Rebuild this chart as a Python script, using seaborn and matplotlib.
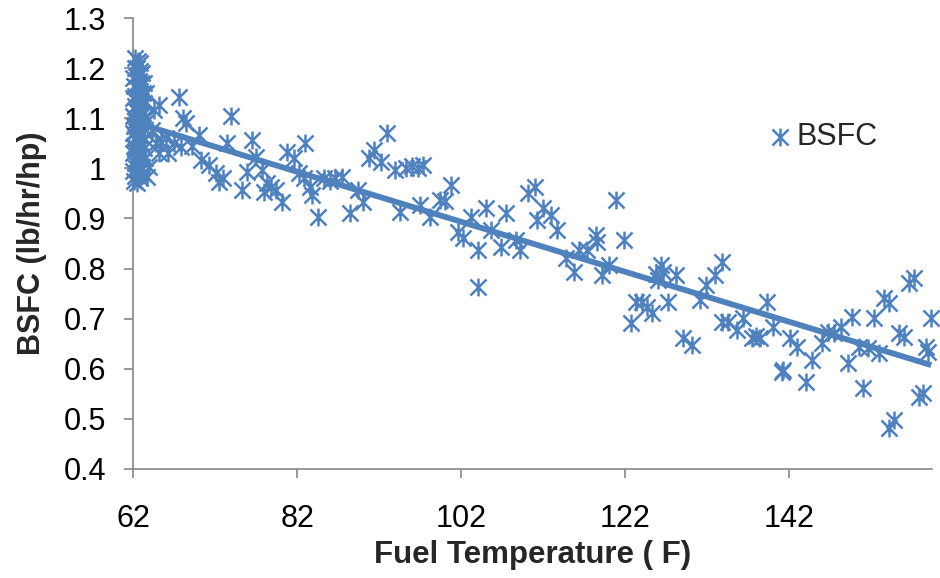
import numpy as np
import pandas as pd
import matplotlib
matplotlib.use("Agg")
import matplotlib.pyplot as plt
from matplotlib.path import Path
import seaborn as sns

# Readings taken while the fuel was still at its starting temperature
start_temp = [62.3, 62.6, 62.9, 62.2, 62.8, 63.1, 62.4, 62.0, 62.7, 63.3, 62.1, 62.5,
              62.9, 63.2, 62.3, 62.0, 62.6, 63.0, 63.4, 62.2, 62.8, 62.4, 63.1, 62.0,
              62.7, 63.3, 62.3, 62.9, 62.1, 62.6, 63.2, 62.4, 62.0, 62.8, 63.4, 62.2,
              62.5, 63.0, 62.1, 62.7, 63.3, 62.3, 62.0, 62.9, 62.5, 63.1, 62.2, 62.8,
              62.4, 62.0, 62.6, 63.2, 62.3, 62.9, 62.1, 62.5, 62.7, 63.5, 63.5, 63.6,
              62.5, 63.0, 62.2, 62.8]
start_bsfc = [1.220, 1.215, 1.210, 1.200, 1.195, 1.190, 1.185, 1.180, 1.175, 1.170, 1.165, 1.160,
              1.155, 1.150, 1.145, 1.140, 1.140, 1.135, 1.130, 1.125, 1.120, 1.115, 1.110, 1.105,
              1.100, 1.100, 1.095, 1.090, 1.085, 1.080, 1.080, 1.075, 1.070, 1.065, 1.060, 1.060,
              1.055, 1.050, 1.045, 1.040, 1.040, 1.035, 1.030, 1.025, 1.020, 1.015, 1.010, 1.005,
              1.000, 0.995, 0.990, 0.990, 0.985, 0.980, 0.975, 0.970, 1.000, 1.020, 1.090, 1.150,
              1.200, 1.170, 1.040, 1.130]

# Readings as the fuel warmed up
warm_temp = [63.7, 64.0, 64.3, 64.6, 64.8, 65.2, 65.2, 65.4, 66.0, 66.3, 67.0, 67.6,
             67.9, 68.1, 68.5, 69.2, 70.0, 70.3, 71.3, 72.1, 72.5, 73.0, 73.5, 74.0,
             75.3, 75.9, 76.5, 77.0, 77.7, 78.0, 78.3, 78.8, 79.4, 80.2, 80.8, 81.6,
             82.2, 82.8, 83.0, 83.6, 83.8, 84.5, 85.3, 86.0, 86.6, 87.5, 88.4, 89.4,
             90.0, 90.8, 91.4, 92.2, 93.0, 93.9, 94.6, 95.3, 96.0, 96.8, 97.0, 97.3,
             98.2, 99.4, 100.0, 100.8, 101.6, 102.2, 103.2, 104.0, 104.0, 105.0, 105.7, 106.8,
             107.5, 108.7, 109.2, 110.2, 111.0, 111.2, 112.0, 113.0, 113.7, 114.8, 115.7, 116.4,
             117.3, 118.4, 118.6, 119.2, 120.0, 120.9, 121.9, 122.7, 123.3, 124.0, 124.6, 125.3,
             125.8, 126.4, 126.6, 126.0, 127.2, 128.2, 129.0, 130.1, 131.1, 131.9, 132.9, 133.8,
             133.8, 134.5, 135.6, 136.4, 137.5, 138.0, 138.4, 139.3, 140.0, 141.1, 141.2, 142.1,
             143.0, 144.0, 144.8, 146.0, 146.7, 147.4, 148.3, 149.1, 149.7, 150.5, 151.0, 151.6,
             152.3, 152.9, 153.5, 154.1, 154.1, 154.8, 155.4, 156.0, 156.6, 157.2, 157.8, 158.3,
             158.7, 158.9, 159.3]
warm_bsfc = [0.982, 1.003, 1.076, 1.116, 1.050, 1.126, 1.030, 1.052, 1.060, 1.030, 1.050, 1.142,
             1.043, 1.100, 1.090, 1.045, 1.066, 1.017, 1.007, 0.990, 0.973, 0.980, 1.050, 1.105,
             0.957, 0.993, 1.056, 1.022, 0.997, 0.953, 0.970, 0.963, 0.957, 0.933, 1.033, 1.020,
             0.990, 0.980, 1.050, 0.963, 0.947, 0.903, 0.980, 0.975, 0.980, 0.983, 0.910, 0.957,
             0.933, 1.020, 1.036, 1.012, 1.070, 0.997, 0.913, 1.000, 1.005, 1.000, 0.927, 1.007,
             0.903, 0.937, 0.935, 0.967, 0.873, 0.861, 0.903, 0.837, 0.763, 0.920, 0.877, 0.843,
             0.910, 0.857, 0.837, 0.950, 0.963, 0.897, 0.920, 0.907, 0.877, 0.821, 0.793, 0.837,
             0.837, 0.867, 0.853, 0.787, 0.807, 0.937, 0.857, 0.691, 0.733, 0.733, 0.723, 0.711,
             0.790, 0.807, 0.793, 0.777, 0.733, 0.787, 0.661, 0.647, 0.737, 0.767, 0.787, 0.813,
             0.693, 0.693, 0.677, 0.701, 0.661, 0.665, 0.661, 0.733, 0.683, 0.593, 0.597, 0.661,
             0.643, 0.573, 0.617, 0.651, 0.673, 0.671, 0.683, 0.611, 0.703, 0.643, 0.561, 0.641,
             0.701, 0.631, 0.741, 0.731, 0.482, 0.498, 0.671, 0.663, 0.771, 0.781, 0.543, 0.551,
             0.643, 0.633, 0.701]

x_ticks = [62, 82, 102, 122, 142]
y_ticks = [0.4, 0.5, 0.6, 0.7, 0.8, 0.9, 1.0, 1.1, 1.2, 1.3]
y_tick_labels = ["0.4", "0.5", "0.6", "0.7", "0.8", "0.9", "1", "1.1", "1.2", "1.3"]

df = pd.DataFrame({
    "Fuel Temperature": start_temp + warm_temp,
    "BSFC": start_bsfc + warm_bsfc,
})

BLUE = "#4F81BD"
AXIS_GREY = "#868686"

sns.set_theme(style="white")
plt.rcParams["font.family"] = ["Liberation Sans", "DejaVu Sans"]

# Asterisk marker: vertical bar crossed by an X
star = Path(
    [(0, -1), (0, 1), (-0.9, -0.9), (0.9, 0.9), (-0.9, 0.9), (0.9, -0.9)],
    [Path.MOVETO, Path.LINETO, Path.MOVETO, Path.LINETO, Path.MOVETO, Path.LINETO],
)

fig = plt.figure(figsize=(9.4, 5.78), dpi=100)
ax = fig.add_axes([133 / 940, 1 - 469 / 578, (932 - 133) / 940, (469 - 18) / 578])

sns.scatterplot(data=df, x="Fuel Temperature", y="BSFC", ax=ax, marker=star,
                s=165, color=BLUE, edgecolor=BLUE, linewidth=1.8,
                clip_on=False, label="BSFC", zorder=3)

# Linear trend line fitted to all readings
sns.regplot(data=df, x="Fuel Temperature", y="BSFC", ax=ax, scatter=False,
            ci=None, truncate=True, color=BLUE,
            line_kws={"linewidth": 4.2, "solid_capstyle": "butt", "zorder": 4})

ax.set_xlim(62, 159.4)
ax.set_ylim(0.4, 1.3)
ax.set_xticks(x_ticks)
ax.set_xticklabels([str(t) for t in x_ticks])
ax.set_yticks(y_ticks)
ax.set_yticklabels(y_tick_labels)

for side in ("top", "right"):
    ax.spines[side].set_visible(False)
for side in ("left", "bottom"):
    ax.spines[side].set_color(AXIS_GREY)
    ax.spines[side].set_linewidth(1.2)

ax.tick_params(axis="both", which="major", direction="out", length=6.5, width=1.2,
               color=AXIS_GREY, labelsize=22, labelcolor="black")
ax.tick_params(axis="x", pad=19, bottom=True)
ax.tick_params(axis="y", pad=13, left=True)

ax.set_xlabel("Fuel Temperature ( F)", fontsize=22.5, fontweight="bold", labelpad=4)
ax.set_ylabel("BSFC (lb/hr/hp)", fontsize=22, fontweight="bold", labelpad=12)

leg = ax.legend(loc="center left", bbox_to_anchor=(752 / 940, 1 - 137 / 578),
                bbox_transform=fig.transFigure, frameon=False, fontsize=22,
                handletextpad=0.05, borderaxespad=0, handlelength=1.0, markerscale=1.0)

fig.savefig("out.png", dpi=100)
